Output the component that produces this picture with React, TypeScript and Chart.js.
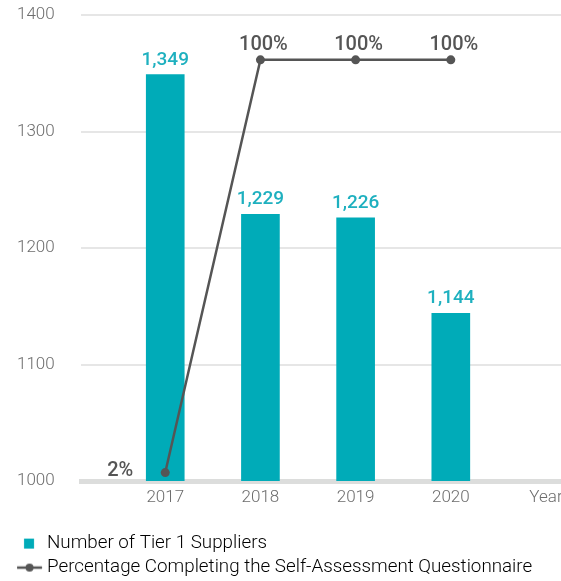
import React, { useEffect, useRef } from "react";
import { Chart, registerables } from "chart.js";

Chart.register(...registerables);

const years = [2017, 2018, 2019, 2020];
const yearAxisLabel = "Year";
const supplierCounts = [1349, 1229, 1226, 1144];
const completionPct = [2, 100, 100, 100];
const yTickValues = [1000, 1100, 1200, 1300, 1400];
const barLabel = "Number of Tier 1 Suppliers";
const lineLabel = "Percentage Completing the Self-Assessment Questionnaire";
const lineLabelSide = ["left", "top", "top", "top"];

const TEAL = "#00abb8";
const TEAL_TEXT = "#1eb0bf";
const GREY_LINE = "#555555";
const TEXT = "#6d6d6d";
const FONT = "Roboto, 'Noto Sans', sans-serif";

function makeMarker(kind: "bar" | "line"): HTMLCanvasElement {
  const c = document.createElement("canvas");
  c.width = 42;
  c.height = 16;
  const ctx = c.getContext("2d")!;
  if (kind === "bar") {
    ctx.fillStyle = TEAL;
    ctx.fillRect(15.1, 3, 10, 10);
  } else {
    ctx.strokeStyle = GREY_LINE;
    ctx.lineWidth = 2.5;
    ctx.beginPath();
    ctx.moveTo(8.1, 8);
    ctx.lineTo(33.1, 8);
    ctx.stroke();
    ctx.fillStyle = GREY_LINE;
    ctx.beginPath();
    ctx.arc(20.6, 8, 4, 0, Math.PI * 2);
    ctx.fill();
  }
  return c;
}

const valueLabels = {
  id: "valueLabels",
  afterDatasetsDraw(chart: any) {
    const ctx = chart.ctx;
    ctx.save();
    const barMeta = chart.getDatasetMeta(0);
    ctx.font = `500 19px ${FONT}`;
    ctx.fillStyle = TEAL_TEXT;
    ctx.textAlign = "center";
    ctx.textBaseline = "alphabetic";
    barMeta.data.forEach((el: any, i: number) => {
      ctx.fillText(supplierCounts[i].toLocaleString("en-US"), el.x, el.y - 10);
    });
    const lineMeta = chart.getDatasetMeta(1);
    ctx.fillStyle = GREY_LINE;
    ctx.font = `500 20px ${FONT}`;
    lineMeta.data.forEach((el: any, i: number) => {
      const txt = completionPct[i] + "%";
      if (lineLabelSide[i] === "left") {
        ctx.textAlign = "right";
        ctx.fillText(txt, el.x - 32, el.y + 3);
      } else {
        ctx.textAlign = "center";
        ctx.fillText(txt, el.x + 3, el.y - 10);
      }
    });
    ctx.restore();
  },
};

export default function App() {
  const ref = useRef<HTMLCanvasElement>(null);
  useEffect(() => {
    if (!ref.current) return;
    const barMarker = makeMarker("bar");
    const lineMarker = makeMarker("line");
    const chart = new Chart(ref.current, {
      type: "bar",
      data: {
        datasets: [
          {
            type: "bar",
            label: barLabel,
            data: years.map((y, i) => ({ x: y, y: supplierCounts[i] })),
            backgroundColor: TEAL,
            barThickness: 38,
            yAxisID: "y",
            order: 2,
          },
          {
            type: "line",
            label: lineLabel,
            data: years.map((y, i) => ({ x: y, y: completionPct[i] })),
            borderColor: GREY_LINE,
            backgroundColor: GREY_LINE,
            borderWidth: 2.5,
            pointRadius: 4.5,
            pointBackgroundColor: GREY_LINE,
            pointBorderWidth: 0,
            yAxisID: "y1",
            order: 1,
          },
        ] as any,
      },
      options: {
        responsive: false,
        animation: false,
        layout: { padding: { top: 0, left: 17, right: 0, bottom: 0 } },
        plugins: {
          tooltip: { enabled: false },
          legend: {
            position: "bottom",
            align: "start",
            fullSize: true,
            labels: {
              usePointStyle: true,
              pointStyleWidth: 15.4,
              padding: 5.2,
              color: TEXT,
              font: { family: FONT, size: 18.8, weight: "300" as any },
              generateLabels: () => [
                { text: barLabel, pointStyle: barMarker as any, fillStyle: TEAL, strokeStyle: TEAL, lineWidth: 0, hidden: false, datasetIndex: 0 },
                { text: lineLabel, pointStyle: lineMarker as any, fillStyle: GREY_LINE, strokeStyle: GREY_LINE, lineWidth: 0, hidden: false, datasetIndex: 1 },
              ],
            },
          },
        },
        scales: {
          x: {
            type: "linear",
            offset: false,
            min: 2016.115,
            max: 2021.52,
            grid: { display: false, drawTicks: false, offset: false },
            border: { display: true, color: "#dcdddc", width: 5 },
            afterBuildTicks: (scale: any) => {
              scale.ticks = [...years, years[years.length - 1] + 1].map((v) => ({ value: v }));
            },
            afterFit: (scale: any) => {
              scale.height = 48;
            },
            ticks: {
              autoSkip: false,
              maxRotation: 0,
              padding: 7,
              color: TEXT,
              font: { family: FONT, size: 17, weight: "300" as any },
              callback: (v: any) => (v > years[years.length - 1] ? yearAxisLabel : String(v)),
            },
          },
          y: {
            min: yTickValues[0],
            max: yTickValues[yTickValues.length - 1],
            afterBuildTicks: (scale: any) => {
              scale.ticks = yTickValues.map((v) => ({ value: v }));
            },
            afterFit: (scale: any) => {
              scale.width = 64;
            },
            grid: { color: "#e6e6e6", lineWidth: 2, drawTicks: false },
            border: { display: false },
            ticks: {
              padding: 5,
              crossAlign: "far",
              color: TEXT,
              font: { family: FONT, size: 17, weight: "300" as any },
              callback: (v: any) => String(v),
            },
          },
          y1: {
            display: false,
            min: 0,
            max: 110.6,
          },
        },
      } as any,
      plugins: [valueLabels],
    });
    return () => chart.destroy();
  }, []);
  return (
    <div style={{ position: "fixed", left: 0, top: 0, width: 561, height: 581, overflow: "hidden", background: "#fff" }}>
      <canvas ref={ref} width={600} height={587} />
    </div>
  );
}
